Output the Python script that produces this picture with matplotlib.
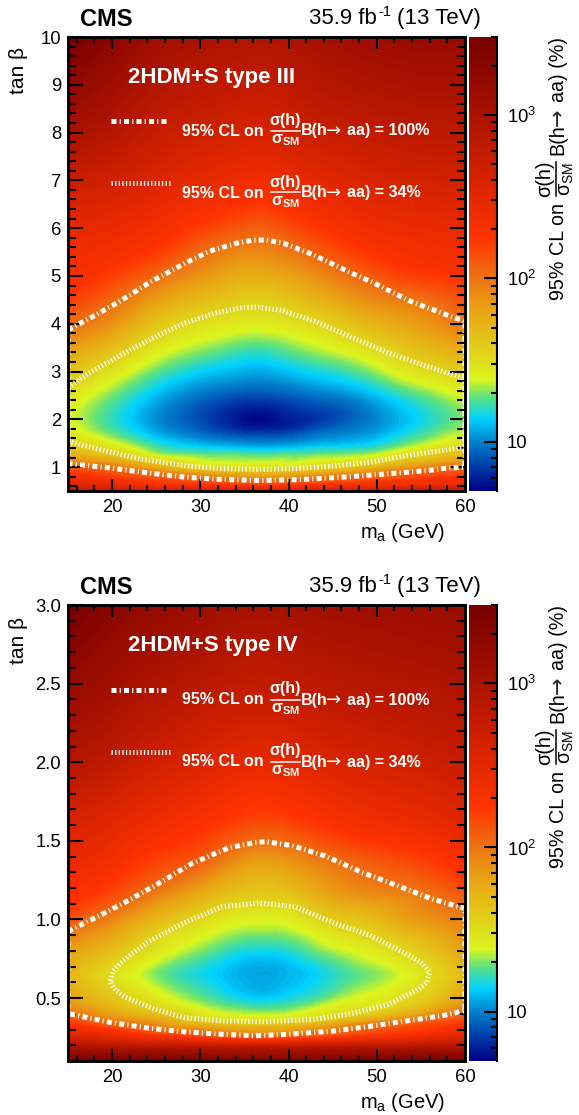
import numpy as np
import matplotlib
matplotlib.use("Agg")
import matplotlib.pyplot as plt
import matplotlib.tri as mtri
from matplotlib.colors import LinearSegmentedColormap, LogNorm, Normalize
from matplotlib.cm import ScalarMappable
from matplotlib.ticker import FixedLocator, FixedFormatter, NullFormatter
from matplotlib.lines import Line2D

plt.rcParams['font.family'] = ['Liberation Sans', 'DejaVu Sans']
plt.rcParams['mathtext.fontset'] = 'custom'
plt.rcParams['mathtext.rm'] = 'Liberation Sans'
plt.rcParams['mathtext.bf'] = 'Liberation Sans:bold'
plt.rcParams['mathtext.default'] = 'regular'

W, H = 579, 1115

# --- data: log10 of the limit in % (rows: tan beta, columns: m_a)
ma_nodes = [15, 20, 25, 30, 34, 37, 40, 44, 49, 54, 60]

tb3_nodes = [0.5, 0.6, 0.7, 0.8, 0.9, 1.0, 1.2, 1.4, 1.6, 1.8, 2.0, 2.3, 2.6, 3, 3.5, 4, 4.5, 5, 5.5, 6, 7, 8, 9, 10]
limit3 = [
    [2.85, 2.75, 2.70, 2.65, 2.62, 2.62, 2.62, 2.65, 2.70, 2.75, 2.80],
    [2.60, 2.48, 2.38, 2.32, 2.28, 2.27, 2.28, 2.32, 2.37, 2.44, 2.52],
    [2.47, 2.33, 2.20, 2.12, 2.06, 2.04, 2.06, 2.12, 2.18, 2.27, 2.37],
    [2.33, 2.20, 2.08, 1.95, 1.85, 1.84, 1.85, 1.95, 2.04, 2.14, 2.24],
    [2.20, 2.10, 1.93, 1.73, 1.65, 1.63, 1.65, 1.73, 1.87, 2.03, 2.12],
    [2.08, 1.98, 1.75, 1.52, 1.47, 1.47, 1.47, 1.55, 1.67, 1.86, 2.00],
    [1.82, 1.68, 1.43, 1.33, 1.31, 1.30, 1.31, 1.34, 1.40, 1.57, 1.75],
    [1.63, 1.47, 1.25, 1.15, 1.12, 1.10, 1.12, 1.16, 1.20, 1.37, 1.55],
    [1.50, 1.33, 1.13, 1.01, 0.95, 0.93, 0.95, 1.02, 1.08, 1.24, 1.41],
    [1.42, 1.24, 1.05, 0.92, 0.81, 0.78, 0.81, 0.92, 1.01, 1.16, 1.33],
    [1.39, 1.21, 1.02, 0.88, 0.76, 0.72, 0.77, 0.85, 0.98, 1.13, 1.30],
    [1.42, 1.24, 1.05, 0.91, 0.82, 0.80, 0.84, 0.90, 1.01, 1.17, 1.33],
    [1.50, 1.32, 1.13, 1.00, 0.94, 0.93, 0.96, 1.02, 1.12, 1.28, 1.43],
    [1.65, 1.46, 1.27, 1.14, 1.09, 1.07, 1.11, 1.18, 1.29, 1.46, 1.58],
    [1.83, 1.66, 1.45, 1.33, 1.26, 1.24, 1.29, 1.37, 1.49, 1.65, 1.78],
    [2.03, 1.87, 1.63, 1.49, 1.44, 1.43, 1.46, 1.54, 1.70, 1.82, 1.98],
    [2.20, 2.04, 1.82, 1.68, 1.60, 1.58, 1.63, 1.74, 1.89, 1.98, 2.13],
    [2.33, 2.20, 2.03, 1.86, 1.76, 1.75, 1.80, 1.92, 2.08, 2.20, 2.27],
    [2.38, 2.33, 2.22, 2.03, 1.93, 1.92, 1.97, 2.10, 2.25, 2.33, 2.37],
    [2.47, 2.43, 2.34, 2.20, 2.11, 2.08, 2.14, 2.26, 2.37, 2.42, 2.45],
    [2.72, 2.66, 2.56, 2.46, 2.40, 2.37, 2.42, 2.50, 2.58, 2.63, 2.65],
    [3.00, 2.90, 2.75, 2.67, 2.62, 2.60, 2.64, 2.72, 2.78, 2.83, 2.83],
    [3.25, 3.10, 2.93, 2.84, 2.80, 2.78, 2.82, 2.90, 2.96, 3.00, 3.00],
    [3.48, 3.30, 3.10, 3.00, 2.95, 2.95, 2.97, 3.05, 3.12, 3.17, 3.17],
]

tb4_nodes = [0.1, 0.15, 0.2, 0.25, 0.3, 0.35, 0.4, 0.5, 0.6, 0.65, 0.7, 0.8, 0.9, 1.0, 1.1, 1.2, 1.35, 1.5, 1.75, 2, 2.25, 2.5, 2.75, 3]
limit4 = [
    [3.48, 3.46, 3.44, 3.42, 3.40, 3.40, 3.40, 3.42, 3.44, 3.46, 3.48],
    [3.20, 3.17, 3.14, 3.12, 3.10, 3.10, 3.10, 3.12, 3.14, 3.16, 3.20],
    [2.90, 2.82, 2.77, 2.74, 2.72, 2.72, 2.72, 2.74, 2.77, 2.80, 2.85],
    [2.60, 2.48, 2.33, 2.22, 2.12, 2.08, 2.13, 2.20, 2.30, 2.40, 2.55],
    [2.40, 2.22, 2.03, 1.90, 1.80, 1.78, 1.80, 1.92, 2.08, 2.20, 2.36],
    [2.20, 1.98, 1.83, 1.60, 1.53, 1.53, 1.54, 1.63, 1.83, 2.02, 2.20],
    [2.00, 1.80, 1.65, 1.45, 1.36, 1.34, 1.36, 1.46, 1.57, 1.77, 2.04],
    [1.83, 1.62, 1.44, 1.28, 1.17, 1.13, 1.17, 1.27, 1.40, 1.53, 1.82],
    [1.74, 1.52, 1.33, 1.19, 1.10, 1.07, 1.10, 1.18, 1.31, 1.44, 1.72],
    [1.72, 1.50, 1.30, 1.17, 1.09, 1.06, 1.09, 1.17, 1.29, 1.42, 1.70],
    [1.74, 1.53, 1.33, 1.19, 1.10, 1.07, 1.10, 1.19, 1.32, 1.45, 1.72],
    [1.82, 1.66, 1.45, 1.30, 1.19, 1.16, 1.19, 1.31, 1.42, 1.56, 1.80],
    [1.95, 1.78, 1.55, 1.40, 1.31, 1.29, 1.31, 1.42, 1.53, 1.68, 1.90],
    [2.13, 1.92, 1.70, 1.52, 1.42, 1.40, 1.42, 1.55, 1.66, 1.83, 1.95],
    [2.25, 2.08, 1.85, 1.67, 1.54, 1.52, 1.54, 1.70, 1.80, 1.90, 2.04],
    [2.33, 2.20, 2.01, 1.82, 1.68, 1.64, 1.68, 1.82, 1.94, 2.00, 2.16],
    [2.43, 2.33, 2.17, 2.05, 1.86, 1.80, 1.84, 1.95, 2.07, 2.15, 2.30],
    [2.52, 2.43, 2.30, 2.20, 2.07, 2.01, 2.04, 2.14, 2.24, 2.30, 2.42],
    [2.70, 2.60, 2.48, 2.38, 2.30, 2.27, 2.30, 2.37, 2.45, 2.50, 2.60],
    [2.90, 2.80, 2.66, 2.56, 2.48, 2.46, 2.48, 2.55, 2.62, 2.67, 2.75],
    [3.07, 2.95, 2.82, 2.72, 2.65, 2.63, 2.65, 2.71, 2.77, 2.81, 2.88],
    [3.20, 3.08, 2.96, 2.87, 2.80, 2.78, 2.80, 2.85, 2.90, 2.93, 2.98],
    [3.35, 3.20, 3.08, 3.00, 2.93, 2.91, 2.93, 2.97, 3.00, 3.03, 3.07],
    [3.48, 3.32, 3.20, 3.12, 3.05, 3.03, 3.05, 3.08, 3.10, 3.13, 3.17],
]

# contours (closed along the plot edges)
c3_100_x = [15, 15.2, 18.2, 20.7, 24.4, 28.4, 31.1, 34, 36, 37.5, 39.5, 42.7, 46.9, 49.7, 53.7, 57.7, 60, 60, 57.5, 55.9, 51.3, 47, 41.6, 37, 32.4, 28.2, 24, 19.4, 15.2, 15, 15]
c3_100_y = [3.88, 3.89, 4.19, 4.45, 4.88, 5.28, 5.52, 5.68, 5.75, 5.75, 5.68, 5.45, 5.08, 4.85, 4.48, 4.2, 4.05, 1.0, 0.97, 0.93, 0.86, 0.8, 0.74, 0.72, 0.74, 0.79, 0.88, 0.99, 1.07, 1.08, 3.88]
c3_34_x = [15, 15.2, 17.7, 21.1, 24.8, 28.2, 31.6, 34.5, 36.4, 39.2, 43, 47.1, 51.3, 55.5, 60, 60, 57.6, 53.4, 49.2, 45, 40.8, 36.6, 32.4, 28.2, 23.2, 19, 15.2, 15, 15]
c3_34_y = [2.68, 2.7, 3.0, 3.36, 3.72, 4.01, 4.22, 4.33, 4.35, 4.28, 4.05, 3.72, 3.39, 3.12, 2.85, 1.42, 1.35, 1.24, 1.10, 1.02, 0.97, 0.95, 0.97, 1.03, 1.17, 1.35, 1.53, 1.55, 2.68]
c4_100_x = [15, 15.2, 17.7, 21.5, 25.3, 29, 33.2, 36.2, 37.4, 40.4, 44.1, 48.3, 52.1, 56.3, 60, 60, 57.6, 53.4, 49.2, 45, 40, 36.2, 32.4, 28.2, 24, 19.8, 15.2, 15, 15]
c4_100_y = [0.93, 0.93, 1.0, 1.11, 1.23, 1.355, 1.455, 1.49, 1.495, 1.47, 1.405, 1.30, 1.22, 1.13, 1.07, 0.42, 0.39, 0.355, 0.32, 0.29, 0.27, 0.26, 0.27, 0.285, 0.31, 0.345, 0.40, 0.40, 0.93]
c4_34_x = [19.8, 20.1, 20.9, 22.2, 24, 28.2, 32.4, 36.6, 40.8, 45, 49.2, 53.4, 55.2, 56, 55.7, 54.7, 51.3, 47, 42.9, 37.4, 32.4, 28.2, 24.8, 21.5, 20.4, 19.9, 19.8]
c4_34_y = [0.61, 0.67, 0.72, 0.78, 0.855, 0.98, 1.08, 1.105, 1.08, 0.98, 0.90, 0.78, 0.72, 0.665, 0.6, 0.555, 0.46, 0.40, 0.365, 0.35, 0.355, 0.375, 0.43, 0.505, 0.55, 0.59, 0.61]

x_ticks = [20, 30, 40, 50, 60]
x_minor = [16, 18, 22, 24, 26, 28, 32, 34, 36, 38, 42, 44, 46, 48, 52, 54, 56, 58]
y3_ticks = [1, 2, 3, 4, 5, 6, 7, 8, 9, 10]
y3_labels = ['1', '2', '3', '4', '5', '6', '7', '8', '9', '10']
y4_ticks = [0.5, 1.0, 1.5, 2.0, 2.5, 3.0]
y4_labels = ['0.5', '1.0', '1.5', '2.0', '2.5', '3.0']
cb_ticks = [10, 100, 1000]
cb_labels = ['10', '$10^{2}$', '$10^{3}$']
cb_minor = [6, 7, 8, 9, 20, 30, 40, 50, 60, 70, 80, 90, 200, 300, 400, 500, 600, 700, 800, 900, 2000, 3000]
vmin, vmax = 5, 3000

cmap_L = [0.70, 0.85, 1.00, 1.14, 1.27, 1.38, 1.55, 1.80, 2.00, 2.25, 2.60, 3.00, 3.48]
cmap_rgb = ['#000080', '#003caa', '#0082cd', '#00d2ff', '#5ae182', '#dcf51e', '#e1d219',
            '#e8a514', '#ee7312', '#ff3200', '#d72300', '#aa1200', '#780000']

lo, hi = np.log10(vmin), np.log10(vmax)
cmap_pos = [(l - lo) / (hi - lo) for l in cmap_L]
cmap_pos[0], cmap_pos[-1] = 0.0, 1.0
cmap = LinearSegmentedColormap.from_list('cms', list(zip(cmap_pos, cmap_rgb)), N=512)

fig = plt.figure(figsize=(W / 100, H / 100), dpi=100)


def axbox(x0, y0, x1, y1):
    return [x0 / W, 1 - y1 / H, (x1 - x0) / W, (y1 - y0) / H]


def T(x, y, s, **kw):
    kw.setdefault('va', 'center')
    kw.setdefault('ha', 'left')
    return fig.text(x / W, 1 - y / H, s, **kw)


LW100, LW34 = 3.6, 3.6
DASH100 = (0, (1.0, 0.63, 0.24, 0.63))
DASH34 = (0, (0.26, 0.46))


def heat(ax, tb, lim):
    X, Y = np.meshgrid(ma_nodes, tb)
    nr, nc = X.shape
    idx = np.arange(nr * nc).reshape(nr, nc)
    a, b, c, d = idx[:-1, :-1].ravel(), idx[:-1, 1:].ravel(), idx[1:, 1:].ravel(), idx[1:, :-1].ravel()
    tris = np.vstack([np.c_[a, b, c], np.c_[a, c, d]])
    tr = mtri.Triangulation(X.ravel(), Y.ravel(), tris)
    fine, zf = mtri.UniformTriRefiner(tr).refine_field(np.array(lim).ravel(), subdiv=3)
    ax.tricontourf(fine, zf, levels=np.linspace(lo, hi, 200), cmap=cmap, norm=Normalize(lo, hi),
                   antialiased=False, extend='both')


def panel(top, bottom, off, tb, lim, ylim, yt, ytl, yminor, c100, c34, title, ly1, ly2, ytxt, tan_y):
    ax = fig.add_axes(axbox(68, top, 465, bottom))
    heat(ax, tb, lim)
    ax.plot(c100[0], c100[1], color='white', lw=LW100, ls=DASH100, dash_capstyle='butt', zorder=3)
    ax.plot(c34[0], c34[1], color='white', lw=LW34, ls=DASH34, dash_capstyle='butt', zorder=3)
    ax.set_xlim(15, 60)
    ax.set_ylim(*ylim)
    ax.xaxis.set_major_locator(FixedLocator(x_ticks))
    ax.xaxis.set_minor_locator(FixedLocator(x_minor))
    ax.yaxis.set_major_locator(FixedLocator(yt))
    ax.yaxis.set_major_formatter(FixedFormatter(ytl))
    ax.yaxis.set_minor_locator(FixedLocator(yminor))
    ax.tick_params(axis='x', which='major', direction='in', length=8.6, width=1.5, top=True,
                   labelsize=13.3, pad=6, zorder=5)
    ax.tick_params(axis='x', which='minor', direction='in', length=4.3, width=1.5, top=True, zorder=5)
    ax.tick_params(axis='y', which='major', direction='in', length=10.5, width=1.5, right=True,
                   labelsize=13.3, pad=5, zorder=5)
    ax.tick_params(axis='y', which='minor', direction='in', length=5.6, width=1.5, right=True, zorder=5)
    for s in ax.spines.values():
        s.set_linewidth(2.1)
        s.set_zorder(6)

    # legend marks
    ax.add_line(Line2D([111 / W, 169 / W], [1 - ly1 / H, 1 - ly1 / H], transform=fig.transFigure,
                       color='white', lw=LW100, ls=DASH100, dash_capstyle='butt', zorder=3))
    ax.add_line(Line2D([111 / W, 170 / W], [1 - ly2 / H, 1 - ly2 / H], transform=fig.transFigure,
                       color='white', lw=LW34, ls=DASH34, dash_capstyle='butt', zorder=3))
    T(128, 78 + off, title, fontsize=16, fontweight='bold', color='white')
    for y, tail in [(ytxt[0], 'aa) = 100%'), (ytxt[1], 'aa) = 34%')]:
        kw = dict(fontsize=11.5, fontweight='bold', color='white')
        T(182, y, '95% CL on', **kw)
        T(285.5, y - 11, 'σ(h)', ha='center', **kw)
        T(285.5, y + 9, r'$\mathbf{σ_{SM}}$', ha='center', fontsize=11.5, color='white')
        fig.add_artist(Line2D([271 / W, 300 / W], [1 - (y - 0.5) / H, 1 - (y - 0.5) / H], color='white', lw=1.1))
        T(301, y, 'B(h', **kw)
        T(326, y, '→', fontsize=13, family='DejaVu Sans', color='white')
        T(347, y, tail, **kw)

    # colour bar
    cax = fig.add_axes(axbox(469, top, 497, bottom))
    sm = ScalarMappable(norm=LogNorm(vmin, vmax), cmap=cmap)
    cb = fig.colorbar(sm, cax=cax)
    cb.outline.set_visible(False)
    cax.spines['right'].set_visible(True)
    cax.spines['right'].set_linewidth(1.5)
    cax.yaxis.set_major_locator(FixedLocator(cb_ticks))
    cax.yaxis.set_major_formatter(FixedFormatter(cb_labels))
    cax.yaxis.set_minor_locator(FixedLocator(cb_minor))
    cax.yaxis.set_minor_formatter(NullFormatter())
    cax.tick_params(which='major', direction='in', length=9.5, width=1.5, labelsize=13.3, pad=7)
    cax.tick_params(which='minor', direction='in', length=4.6, width=1.5)

    # axis and colour-bar titles
    T(445, bottom + 41, r'$m_{a}$ (GeV)', ha='right', fontsize=14.5)
    T(19, tan_y, 'tan β', ha='center', rotation=90, fontsize=15)
    T(80, top - 18, 'CMS', fontsize=17, fontweight='bold')
    T(309, top - 18.5, '35.9 fb', fontsize=16)
    T(378, top - 25, '-1', fontsize=10.5)
    T(397, top - 18.5, '(13 TeV)', fontsize=16)
    kw = dict(rotation=90, fontsize=14.2, ha='center')
    T(558, 251.5 + off, '95% CL on', **kw)
    T(545, 179 + off, 'σ(h)', **kw)
    T(567, 179 + off, r'$σ_{SM}$', **kw)
    fig.add_artist(Line2D([556 / W, 556 / W], [1 - (162 + off) / H, 1 - (196 + off) / H], color='k', lw=1.1))
    T(558, 155 + off, 'B(h', va='bottom', **kw)
    T(558, 117 + off, '→', family='DejaVu Sans', rotation=90, fontsize=15, ha='center', color='#222222')
    T(558, 37 + off, 'aa) (%)', va='top', **kw)
    return ax


panel(37, 491, 0, tb3_nodes, limit3, (0.5, 10), y3_ticks, y3_labels,
      [0.6, 0.8, 1.2, 1.4, 1.6, 1.8, 2.2, 2.4, 2.6, 2.8, 3.2, 3.4, 3.6, 3.8, 4.2, 4.4, 4.6, 4.8, 5.2, 5.4, 5.6, 5.8,
       6.2, 6.4, 6.6, 6.8, 7.2, 7.4, 7.6, 7.8, 8.2, 8.4, 8.6, 8.8, 9.2, 9.4, 9.6, 9.8],
      (c3_100_x, c3_100_y), (c3_34_x, c3_34_y), '2HDM+S type III', 121, 183, (131, 193), 70)
panel(605, 1061, 568, tb4_nodes, limit4, (0.1, 3.0), y4_ticks, y4_labels,
      [0.2, 0.3, 0.4, 0.6, 0.7, 0.8, 0.9, 1.1, 1.2, 1.3, 1.4, 1.6, 1.7, 1.8, 1.9, 2.1, 2.2, 2.3, 2.4, 2.6, 2.7, 2.8, 2.9],
      (c4_100_x, c4_100_y), (c4_34_x, c4_34_y), '2HDM+S type IV', 690, 752, (700, 762), 640)

fig.savefig('out.png', dpi=100)
